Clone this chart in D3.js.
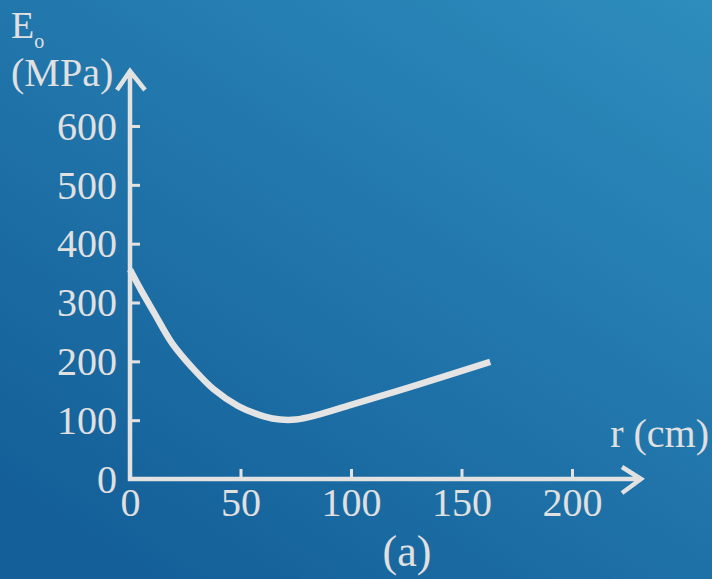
<!DOCTYPE html>
<html>
<head>
<meta charset="utf-8">
<script src="https://cdn.jsdelivr.net/npm/d3@7"></script>
<style>
  body { margin: 0; }
  svg { display: block; }
  text { font-family: "Liberation Serif", "Times New Roman", serif; fill: #e0e0e0; }
</style>
</head>
<body>
<div id="chart"></div>
<script>
var w = 712, h = 579;

// data
var radius = [0, 5, 11, 19, 28, 38, 49, 61, 68, 75, 84, 100, 130, 163];
var modulus = [356, 321, 282, 231, 190, 152, 124, 106, 101, 101, 108, 126, 160, 199];
var xTicks = [0, 50, 100, 150, 200];
var yTicks = [0, 100, 200, 300, 400, 500, 600];

var data = radius.map(function(r, i) { return [r, modulus[i]]; });

var xScale = d3.scaleLinear().domain([0, 200]).range([130, 572]);
var yScale = d3.scaleLinear().domain([0, 600]).range([479, 126]);

var svg = d3.select("#chart")
  .append("svg")
  .attr("width", w)
  .attr("height", h);

// background gradient
var grad = svg.append("defs").append("linearGradient")
  .attr("id", "bg")
  .attr("x1", "1").attr("y1", "0")
  .attr("x2", "0.2").attr("y2", "1");
grad.append("stop").attr("offset", "0").attr("stop-color", "#2e8dbd");
grad.append("stop").attr("offset", "1").attr("stop-color", "#145f99");

svg.append("rect")
  .attr("width", w)
  .attr("height", h)
  .attr("fill", "url(#bg)");

var lineColor = "#e2e2e2";

// X axis
var xAxis = d3.axisBottom(xScale)
  .tickValues(xTicks)
  .tickSizeInner(-10)
  .tickSizeOuter(0)
  .tickPadding(9);

var gx = svg.append("g")
  .attr("transform", "translate(0," + yScale(0) + ")")
  .call(xAxis);
gx.select(".domain").remove();
gx.selectAll("line").attr("stroke", lineColor).attr("stroke-width", 3);
gx.selectAll("text").attr("font-size", 40).attr("fill", "#e0e0e0")
  .style("font-family", "Liberation Serif");

// Y axis
var yAxis = d3.axisLeft(yScale)
  .tickValues(yTicks)
  .tickSizeInner(-10)
  .tickSizeOuter(0)
  .tickPadding(13);

var gy = svg.append("g")
  .attr("transform", "translate(" + xScale(0) + ",0)")
  .call(yAxis);
gy.select(".domain").remove();
gy.selectAll("line").attr("stroke", lineColor).attr("stroke-width", 3);
gy.selectAll("text").attr("font-size", 40).attr("fill", "#e0e0e0")
  .attr("dy", "0.33em")
  .style("font-family", "Liberation Serif");

// axis lines with open arrow heads
var x0 = xScale(0), y0 = yScale(0);
svg.append("path")
  .attr("d", "M" + x0 + "," + (y0 + 2) + "V70 M117,90 L" + x0 + ",71 L145,90")
  .attr("fill", "none")
  .attr("stroke", lineColor)
  .attr("stroke-width", 4.5);
svg.append("path")
  .attr("d", "M" + (x0 - 2) + "," + y0 + "H642 M622,467 L641," + y0 + " L622,493")
  .attr("fill", "none")
  .attr("stroke", lineColor)
  .attr("stroke-width", 4.5);

// curve
var line = d3.line()
  .x(function(d) { return xScale(d[0]); })
  .y(function(d) { return yScale(d[1]); })
  .curve(d3.curveCatmullRom);

svg.append("path")
  .datum(data)
  .attr("d", line)
  .attr("fill", "none")
  .attr("stroke", "#e4e4e4")
  .attr("stroke-width", 6.5);

// axis titles
var yTitle = svg.append("text")
  .attr("x", 11)
  .attr("y", 38)
  .attr("font-size", 38);
yTitle.append("tspan").text("E");
yTitle.append("tspan").attr("font-size", 20).attr("dy", 10).text("o");

svg.append("text")
  .attr("x", 11)
  .attr("y", 86)
  .attr("font-size", 40)
  .text("(MPa)");

svg.append("text")
  .attr("x", 709)
  .attr("y", 447)
  .attr("text-anchor", "end")
  .attr("font-size", 40)
  .text("r (cm)");

svg.append("text")
  .attr("x", 407)
  .attr("y", 566)
  .attr("text-anchor", "middle")
  .attr("font-size", 44)
  .text("(a)");
</script>
</body>
</html>
